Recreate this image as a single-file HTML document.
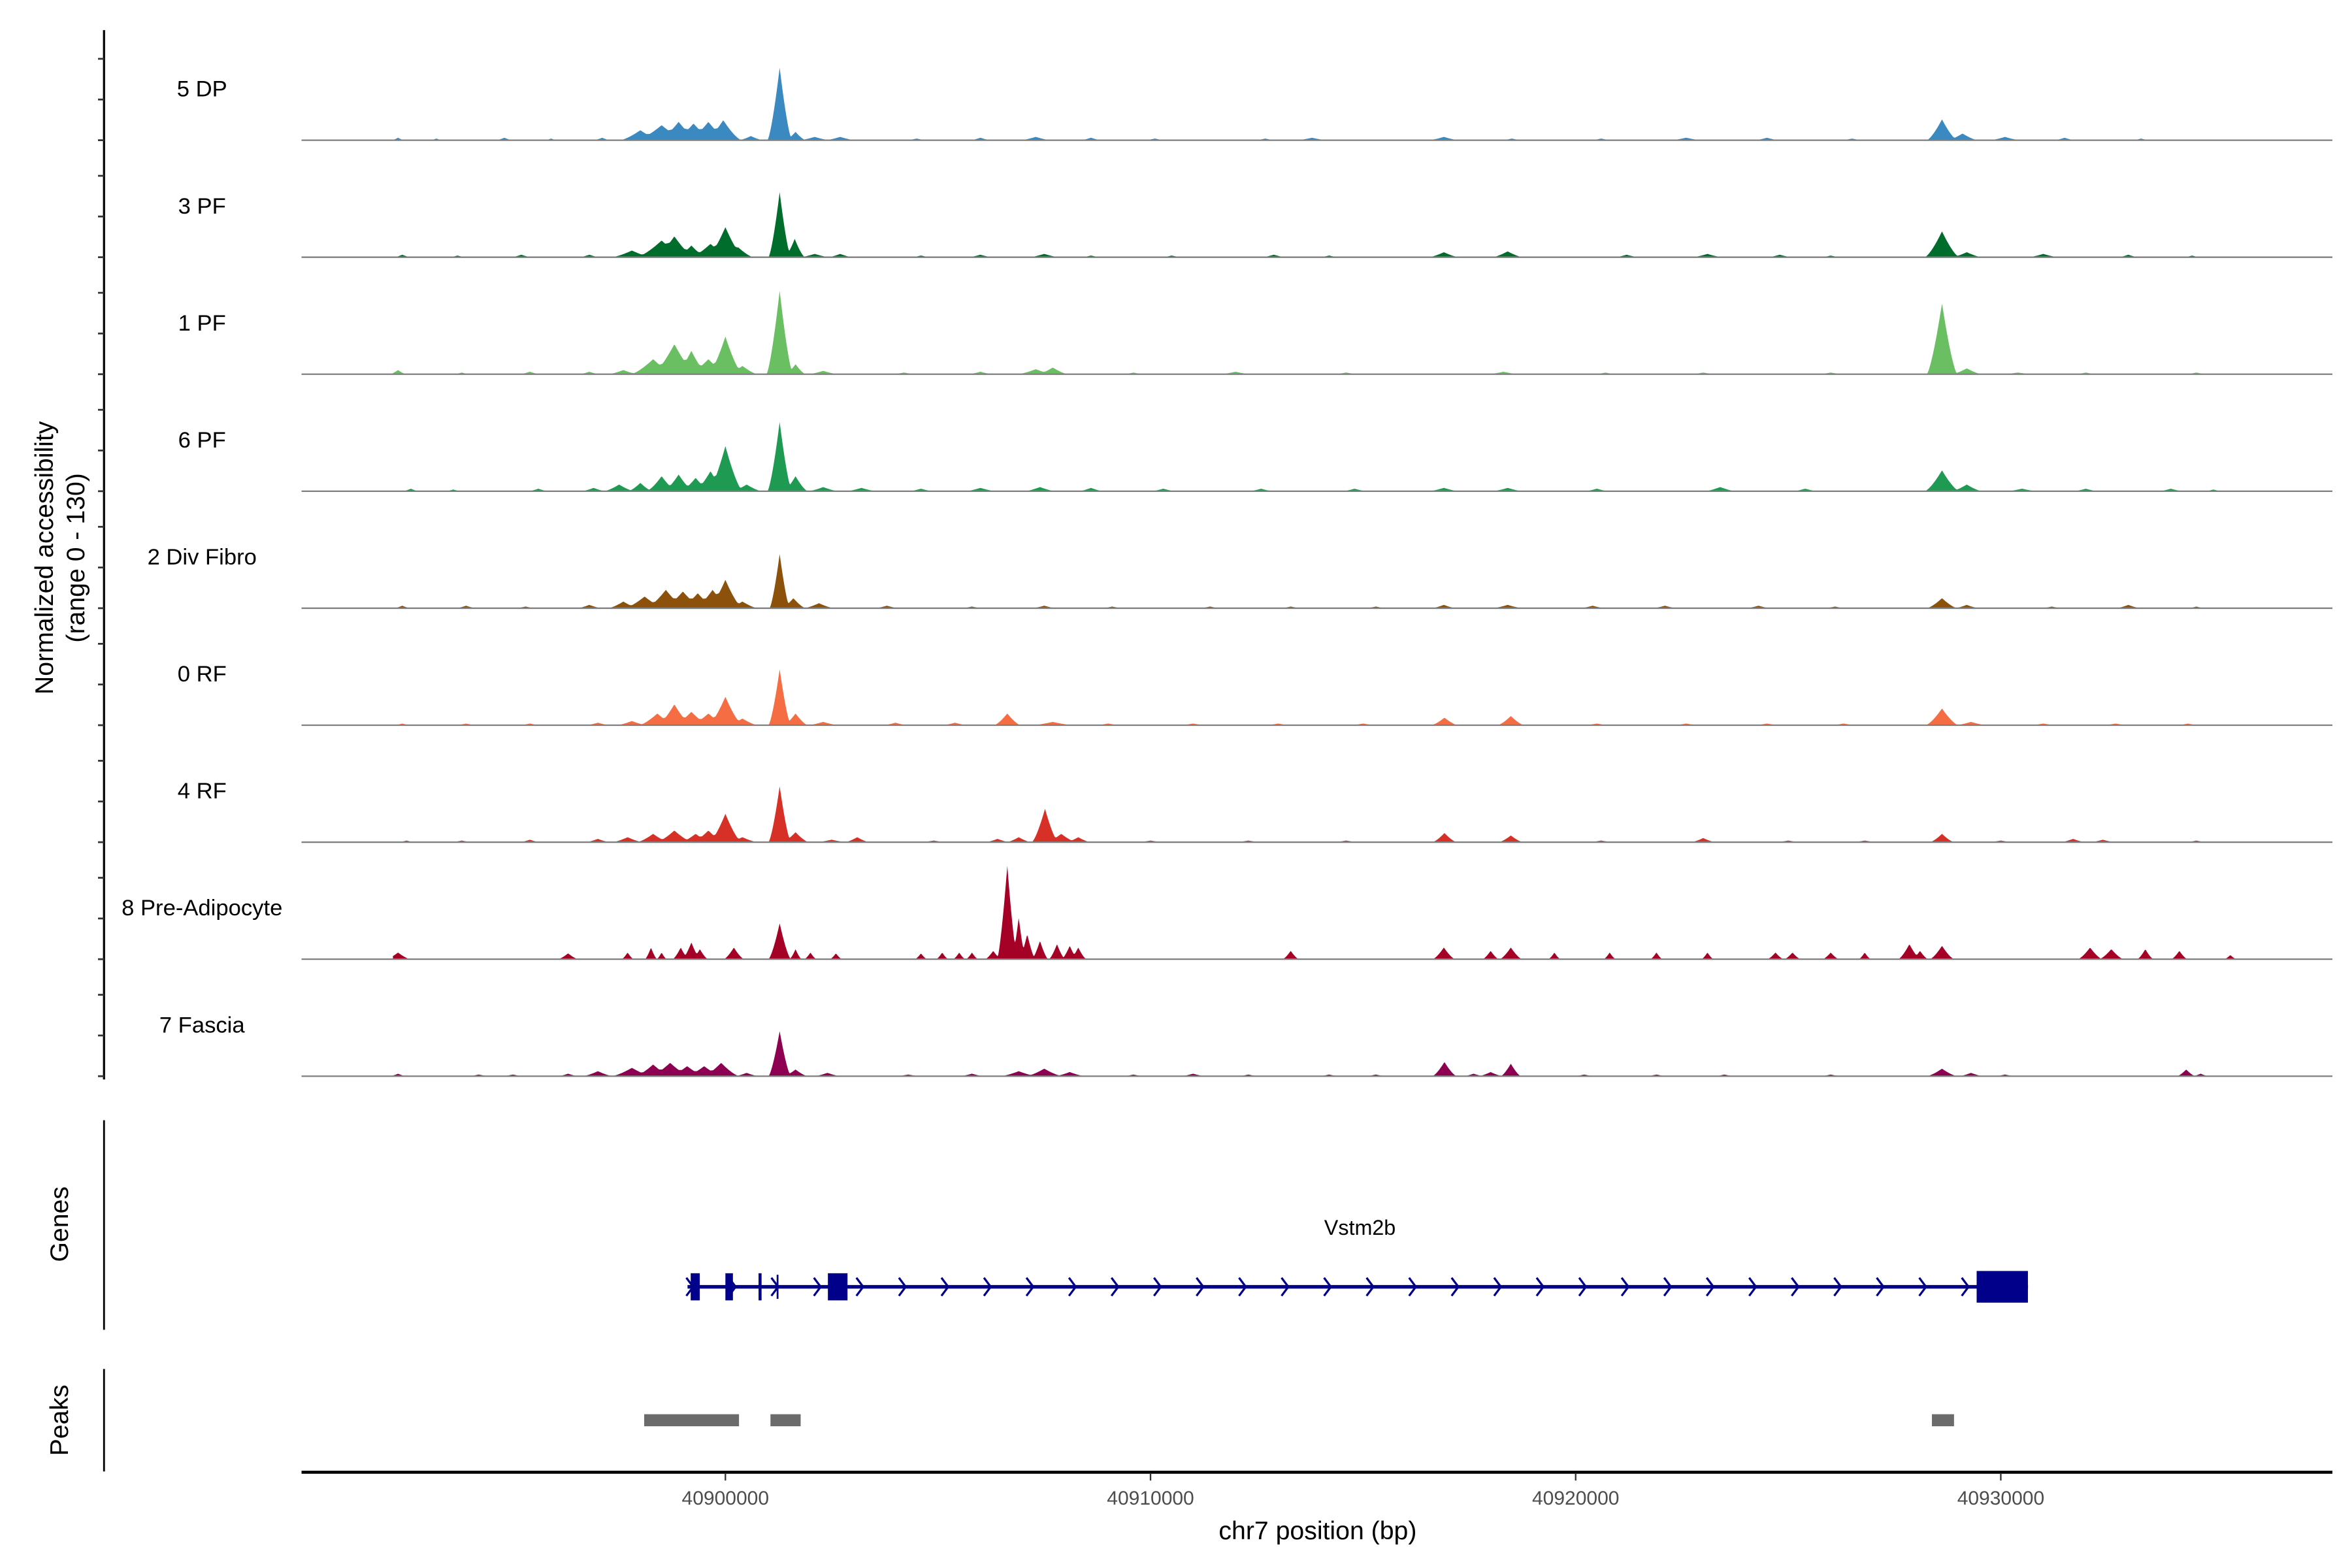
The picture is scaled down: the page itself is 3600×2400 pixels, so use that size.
<!DOCTYPE html>
<html><head><meta charset="utf-8"><style>
html,body{margin:0;padding:0;background:#fff;}
svg{display:block;}
text{font-family:"Liberation Sans",Arial,sans-serif;}
</style></head><body>
<svg id="chart" width="3600" height="2400" viewBox="0 0 1560 1040" xmlns="http://www.w3.org/2000/svg">
<g id="tracks"></g>
<line x1="69" y1="20" x2="69" y2="716" stroke="#000" stroke-width="1.4"/>
<g id="yticks"></g>
<g font-size="17" fill="#000" text-anchor="middle">
<text transform="translate(35,370) rotate(-90)">Normalized accessibility</text>
<text transform="translate(56,370) rotate(-90)">(range 0 - 130)</text>
</g>
<line x1="69" y1="743" x2="69" y2="882" stroke="#000" stroke-width="1.2"/>
<text transform="translate(45,812) rotate(-90)" font-size="17" text-anchor="middle">Genes</text>
<g id="gene"></g>
<text x="902" y="819" font-size="14" text-anchor="middle">Vstm2b</text>
<line x1="69" y1="908" x2="69" y2="976" stroke="#000" stroke-width="1.2"/>
<text transform="translate(45,942) rotate(-90)" font-size="17" text-anchor="middle">Peaks</text>
<g id="peaks"></g>
<line x1="200" y1="976.5" x2="1547" y2="976.5" stroke="#000" stroke-width="2"/>
<g id="xticks"></g>
<text x="874" y="1021" font-size="17" text-anchor="middle">chr7 position (bp)</text>
</svg>
<script>
const trackNames = ["5 DP","3 PF","1 PF","6 PF","2 Div Fibro","0 RF","4 RF","8 Pre-Adipocyte","7 Fascia"];
const trackColors = ["#3a89c1","#006d2c","#6abf63","#1f9a52","#8c510a","#f46d43","#d73027","#a50026","#8e0152"];
const xTickValues = [40900000,40910000,40920000,40930000];
const xTickLabels = ["40900000","40910000","40920000","40930000"];
// peaks: [position bp, value (0-130), half-width bp]
const peaksDP = [[40892300,3,60],[40893200,2,60],[40894800,3,80],[40895900,2,60],[40897100,3,80],[40898000,12,200],[40898500,18,250],[40898900,22,200],[40899250,20,200],[40899600,22,200],[40899950,24,180],[40900600,5,120],[40901277,87,120],[40901650,10,100],[40902100,4,150],[40902700,4,150],[40904500,2,100],[40906000,3,100],[40907300,4,150],[40908600,3,100],[40910100,2,100],[40912700,2,100],[40913800,3,150],[40916900,4,150],[40918500,2,100],[40920600,2,100],[40922600,3,150],[40924500,3,120],[40926500,2,100],[40928617,25,150],[40929100,8,150],[40930100,4,150],[40931500,3,100],[40933300,2,80]];
const peaksPF3 = [[40892400,3,80],[40893700,2,80],[40895200,3,100],[40896800,3,100],[40897800,8,200],[40898500,20,250],[40898800,25,200],[40899200,14,150],[40899650,16,200],[40900000,36,180],[40900300,12,150],[40901277,78,110],[40901631,22,100],[40902100,4,150],[40902700,4,120],[40904600,2,100],[40906000,3,120],[40907500,4,150],[40908600,2,100],[40910500,2,100],[40912900,3,120],[40914200,2,100],[40916900,6,150],[40918400,7,150],[40921200,3,120],[40923100,4,150],[40924800,3,120],[40926000,2,100],[40928617,31,170],[40929200,6,150],[40931000,4,150],[40933000,3,100],[40934500,2,80]];
const peaksPF1 = [[40892300,5,80],[40893800,2,80],[40895400,3,100],[40896800,3,100],[40897600,5,150],[40898300,18,220],[40898800,36,220],[40899200,28,160],[40899600,18,200],[40900000,45,170],[40900400,10,150],[40901277,100,130],[40901650,12,100],[40902300,4,150],[40904200,2,120],[40906000,3,120],[40907300,6,180],[40907700,8,150],[40909600,2,100],[40912000,3,150],[40914600,2,120],[40918300,3,150],[40920700,2,100],[40923000,2,120],[40926000,2,120],[40928617,85,150],[40929200,7,150],[40930400,2,150],[40932000,2,100],[40934600,2,100]];
const peaksPF6 = [[40892600,3,80],[40893600,2,80],[40895600,3,100],[40896900,4,120],[40897500,8,150],[40898000,10,120],[40898500,18,150],[40898900,20,150],[40899300,16,150],[40899650,24,160],[40900000,54,170],[40900500,8,150],[40901277,83,120],[40901650,18,120],[40902300,5,150],[40903200,4,150],[40904600,3,120],[40906000,4,150],[40907400,5,150],[40908600,4,120],[40910300,3,120],[40912600,3,120],[40914800,3,120],[40916900,4,150],[40918400,4,150],[40920500,3,120],[40923400,5,150],[40925400,3,120],[40928617,25,170],[40929200,8,150],[40930500,3,150],[40932000,3,120],[40934000,3,120],[40935000,2,80]];
const peaksDiv = [[40892400,3,80],[40893900,3,100],[40895300,2,100],[40896800,4,120],[40897600,8,150],[40898100,14,200],[40898600,22,200],[40899000,20,200],[40899350,18,180],[40899700,22,180],[40900000,34,170],[40900400,8,150],[40901277,65,100],[40901600,12,120],[40902200,6,150],[40903800,3,120],[40905800,2,100],[40907500,3,120],[40909100,2,100],[40911400,2,100],[40913300,2,100],[40915300,2,100],[40916900,4,120],[40918400,4,150],[40920400,3,120],[40922100,3,120],[40924300,3,120],[40926100,2,100],[40928617,12,150],[40929200,4,120],[40931200,2,100],[40933000,4,120],[40934600,2,80]];
const peaksRF0 = [[40892400,2,80],[40893900,2,100],[40895400,2,100],[40897000,3,120],[40897800,5,150],[40898400,14,180],[40898800,25,170],[40899200,16,180],[40899600,14,180],[40900000,34,170],[40900400,8,150],[40901277,67,110],[40901650,14,120],[40902300,4,150],[40904000,3,120],[40905400,3,120],[40906631,14,130],[40907700,4,200],[40909000,2,120],[40911000,2,120],[40913000,2,120],[40915000,2,120],[40916914,9,130],[40918475,11,130],[40920500,2,120],[40922600,2,120],[40924500,2,120],[40926300,2,120],[40928617,20,160],[40929300,4,150],[40931000,2,120],[40932700,2,120],[40934400,2,100]];
const peaksRF4 = [[40892500,2,80],[40893800,2,100],[40895400,3,100],[40897000,4,120],[40897700,6,150],[40898300,10,160],[40898800,14,180],[40899300,10,150],[40899600,14,160],[40900000,34,160],[40900400,6,150],[40901277,67,110],[40901650,12,130],[40902500,3,150],[40903100,6,120],[40904900,2,120],[40906400,4,120],[40906900,6,120],[40907518,40,130],[40907900,10,150],[40908300,6,120],[40910000,2,120],[40912300,2,120],[40914600,2,120],[40916914,11,120],[40918475,8,120],[40920600,2,120],[40923000,5,120],[40925000,2,120],[40926800,2,120],[40928617,10,120],[40930000,2,120],[40931700,4,120],[40932400,3,120],[40934600,2,100]];
const peaksPre = [[40892300,8,120],[40896300,7,100],[40897700,8,60],[40898250,14,60],[40898500,8,50],[40898950,14,80],[40899200,20,90],[40899400,12,80],[40900200,14,100],[40901277,43,110],[40901650,12,60],[40902000,8,60],[40902600,7,60],[40904600,7,60],[40905100,8,60],[40905500,8,60],[40905800,8,60],[40906300,10,80],[40906631,112,100],[40906900,50,70],[40907100,30,80],[40907400,22,80],[40907800,18,80],[40908100,16,80],[40908300,14,80],[40913298,10,80],[40916900,14,110],[40918000,10,80],[40918475,14,110],[40919500,8,60],[40920800,8,60],[40921900,8,60],[40923100,8,60],[40924700,8,80],[40925100,8,80],[40926000,8,80],[40926800,8,60],[40927850,18,110],[40928100,10,80],[40928617,16,120],[40932100,14,120],[40932600,12,120],[40933400,12,80],[40934200,10,80],[40935400,5,60]];
const peaksFas = [[40892300,3,80],[40894200,2,100],[40895000,2,100],[40896300,3,100],[40897000,6,150],[40897800,10,200],[40898300,14,180],[40898700,16,200],[40899100,12,180],[40899500,12,180],[40899900,16,180],[40900500,4,120],[40901277,54,110],[40901650,8,120],[40902400,4,130],[40904300,2,120],[40905800,3,120],[40906900,6,180],[40907500,9,180],[40908100,5,150],[40909600,2,100],[40911000,3,120],[40912300,2,100],[40914200,2,100],[40915300,2,100],[40916914,17,120],[40917600,3,100],[40918000,5,120],[40918475,15,100],[40920200,2,100],[40921900,2,100],[40923500,2,100],[40926000,2,100],[40928617,9,150],[40929300,4,120],[40930100,2,100],[40934361,8,90],[40934700,3,80]];
const trackPeaks = [peaksDP,peaksPF3,peaksPF1,peaksPF6,peaksDiv,peaksRF0,peaksRF4,peaksPre,peaksFas];
const geneStart = 40899110, geneEnd = 40930640;
const geneExons = [[40899184,40899397],[40900000,40900177],[40900780,40900851],[40901206,40901241],[40902411,40902872],[40929432,40930638]];
const peakRegions = [[40898090,40900320],[40901060,40901770],[40928380,40928900]];

const NS = "http://www.w3.org/2000/svg";
const xMin = 40890030, xMax = 40937800, xL = 200, xR = 1547;
function xs(bp){ return xL + (bp - xMin) * (xR - xL) / (xMax - xMin); }
const trackStep = 77.6, trackPx = 72, yMax = 130, widthFactor = 2.4;
function ys(v, base){ return base - v / yMax * trackPx; }
const sigStart = 40892180, sigEnd = 40935600;

const gT = document.getElementById('tracks');
const gY = document.getElementById('yticks');
trackNames.forEach((name, i) => {
  const base = 93 + i * trackStep;
  const pk = trackPeaks[i];
  let d = "M" + xs(sigStart).toFixed(2) + "," + base;
  for (let px = xs(sigStart); px <= xs(sigEnd); px += 0.5) {
    const bp = xMin + (px - xL) * (xMax - xMin) / (xR - xL);
    let v = 0, s = 0;
    for (const p of pk) {
      const t = Math.abs(bp - p[0]) / (p[2] * widthFactor);
      if (t < 1) { const c = p[1] * Math.pow(1 - t, 1.4); if (c > v) v = c; s += c; }
    }
    v = Math.max(v, 0.6 * s);
    d += "L" + px.toFixed(2) + "," + ys(Math.min(v, yMax), base).toFixed(2);
  }
  d += "L" + xs(sigEnd).toFixed(2) + "," + base + "Z";
  const path = document.createElementNS(NS, 'path');
  path.setAttribute('d', d);
  path.setAttribute('fill', trackColors[i]);
  
  
  gT.appendChild(path);
  const bl = document.createElementNS(NS, 'line');
  bl.setAttribute('x1', xL); bl.setAttribute('x2', xR);
  bl.setAttribute('y1', base); bl.setAttribute('y2', base);
  bl.setAttribute('stroke', '#7f7f7f'); bl.setAttribute('stroke-width', '1');
  
  
  gT.appendChild(bl);
  const lab = document.createElementNS(NS, 'text');
  lab.setAttribute('x', 134); lab.setAttribute('y', base - 29);
  lab.setAttribute('font-size', '15'); lab.setAttribute('text-anchor', 'middle');
  lab.textContent = name;
  
  
  gT.appendChild(lab);
  [0, 27, 54].forEach(o => {
    const t = document.createElementNS(NS, 'line');
    t.setAttribute('x1', 65); t.setAttribute('x2', 69);
    t.setAttribute('y1', base - o); t.setAttribute('y2', base - o);
    t.setAttribute('stroke', '#333'); t.setAttribute('stroke-width', '1.2');
    
    
    gY.appendChild(t);
  });
});

// gene
const gG = document.getElementById('gene');
const gy = 853.5;
const gl = document.createElementNS(NS, 'line');
gl.setAttribute('x1', xs(geneStart)); gl.setAttribute('x2', xs(geneEnd));
gl.setAttribute('y1', gy); gl.setAttribute('y2', gy);
gl.setAttribute('stroke', '#00008b'); gl.setAttribute('stroke-width', '2.4');


gG.appendChild(gl);
for (let bp = geneStart + 60; bp < geneEnd - 1000; bp += 1000) {
  const x = xs(bp);
  const ch = document.createElementNS(NS, 'path');
  ch.setAttribute('d', `M${x-2.5},${gy-6}L${x+2},${gy}L${x-2.5},${gy+6}`);
  ch.setAttribute('stroke', '#00008b'); ch.setAttribute('fill', 'none'); ch.setAttribute('stroke-width', '1.4');
  
  
  gG.appendChild(ch);
}
geneExons.forEach((e, k) => {
  const last = k === geneExons.length - 1;
  const h = last ? 21 : (k === 3 ? 16 : 18);
  const r = document.createElementNS(NS, 'rect');
  const x0 = xs(e[0]), x1 = xs(e[1]);
  r.setAttribute('x', x0); r.setAttribute('width', Math.max(1.2, x1 - x0));
  r.setAttribute('y', gy - h / 2); r.setAttribute('height', h);
  r.setAttribute('fill', '#00008b');
  
  
  gG.appendChild(r);
});

// peaks
const gP = document.getElementById('peaks');
peakRegions.forEach(p => {
  const r = document.createElementNS(NS, 'rect');
  r.setAttribute('x', xs(p[0])); r.setAttribute('width', xs(p[1]) - xs(p[0]));
  r.setAttribute('y', 938); r.setAttribute('height', 8);
  r.setAttribute('fill', '#6b6b6b');
  
  
  gP.appendChild(r);
});

// x ticks
const gX = document.getElementById('xticks');
xTickValues.forEach((v, i) => {
  const x = xs(v);
  const t = document.createElementNS(NS, 'line');
  t.setAttribute('x1', x); t.setAttribute('x2', x);
  t.setAttribute('y1', 977); t.setAttribute('y2', 982);
  t.setAttribute('stroke', '#333'); t.setAttribute('stroke-width', '1');
  
  
  gX.appendChild(t);
  const l = document.createElementNS(NS, 'text');
  l.setAttribute('x', x); l.setAttribute('y', 998);
  l.setAttribute('font-size', '13'); l.setAttribute('fill', '#4d4d4d'); l.setAttribute('text-anchor', 'middle');
  l.textContent = xTickLabels[i];
  
  
  gX.appendChild(l);
});
</script>
</body></html>
